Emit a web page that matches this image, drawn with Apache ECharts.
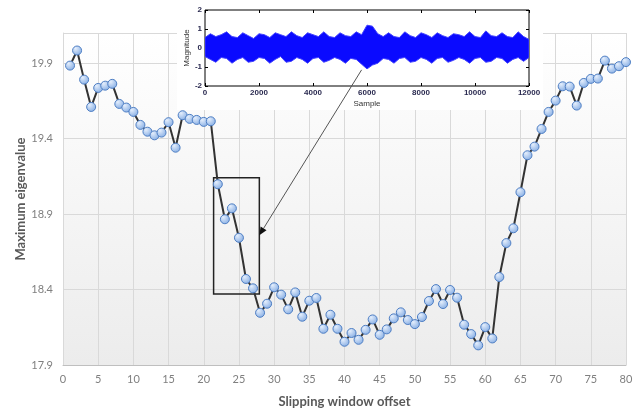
<!DOCTYPE html>
<html>
<head>
<meta charset="utf-8">
<script src="https://cdn.jsdelivr.net/npm/echarts@6/dist/echarts.min.js"></script>
<style>
  html, body { margin: 0; padding: 0; background: #ffffff; }
  #chart { width: 639px; height: 411px; }
</style>
</head>
<body>
<div id="chart"></div>
<script>
// Maximum eigenvalue for each slipping-window offset (1..80)
const eigenValues = [
  19.884, 19.984, 19.791, 19.610, 19.736, 19.751, 19.763, 19.630, 19.606, 19.577,
  19.491, 19.446, 19.422, 19.440, 19.509, 19.340, 19.555, 19.531, 19.524, 19.511,
  19.515, 19.098, 18.866, 18.938, 18.743, 18.470, 18.408, 18.246, 18.306, 18.415,
  18.366, 18.269, 18.381, 18.220, 18.326, 18.344, 18.140, 18.233, 18.140, 18.054,
  18.112, 18.067, 18.133, 18.202, 18.100, 18.136, 18.209, 18.249, 18.198, 18.171,
  18.218, 18.324, 18.403, 18.304, 18.397, 18.346, 18.167, 18.105, 18.030, 18.151,
  18.076, 18.483, 18.708, 18.806, 19.045, 19.290, 19.347, 19.464, 19.577, 19.652,
  19.747, 19.745, 19.619, 19.769, 19.796, 19.798, 19.917, 19.864, 19.880, 19.907
];

// Axis ticks of the main chart
const yTicks = { min: 17.9, max: 20.1, step: 0.5 };
const xTicks = { min: 0, max: 80, step: 5 };

// Highlighted window region (offset range and eigenvalue range)
const boxOffsets = [21.4, 27.9];
const boxValues = [18.37, 19.14];

// Inset signal: upper and lower envelope of the waveform, one pair every 200 samples
const sampleStep = 200;
const signalUpper = [
  0.55, 0.75, 0.60, 0.70, 0.85, 0.60, 0.55, 0.80, 0.65, 0.50,
  0.75, 0.70, 0.55, 0.80, 0.70, 0.60, 0.85, 0.65, 0.55, 0.80,
  0.70, 0.60, 0.85, 0.60, 0.55, 0.80, 0.65, 0.60, 0.85, 0.70,
  1.20, 1.15, 0.75, 0.60, 0.80, 0.60, 0.55, 0.85, 0.65, 0.55,
  0.80, 0.70, 0.55, 0.80, 0.65, 0.55, 0.75, 0.70, 0.60, 0.85,
  0.60, 0.55, 0.90, 0.65, 0.60, 0.80, 0.60, 0.55, 0.85, 0.60,
  0.45
];
const signalLower = [
  -0.45, -0.60, -0.75, -0.50, -0.55, -0.80, -0.60, -0.50, -0.75, -0.70,
  -0.50, -0.55, -0.80, -0.60, -0.45, -0.75, -0.70, -0.50, -0.60, -0.80,
  -0.55, -0.50, -0.75, -0.65, -0.50, -0.60, -0.80, -0.55, -0.60, -0.85,
  -1.10, -0.90, -0.80, -0.55, -0.60, -0.80, -0.55, -0.50, -0.75, -0.70,
  -0.50, -0.60, -0.80, -0.55, -0.50, -0.75, -0.65, -0.50, -0.60, -0.80,
  -0.55, -0.50, -0.75, -0.70, -0.50, -0.55, -0.80, -0.60, -0.50, -0.70,
  -0.50
];

// Arrow from the transient in the waveform to the highlighted window
const arrowFrom = [5800, -1.15];   // sample, magnitude
const arrowTo = [27.9, 18.76];     // offset, eigenvalue

const chart = echarts.init(document.getElementById('chart'), null, { renderer: 'canvas' });

const mainPoints = eigenValues.map((v, i) => [i + 1, v]);
const samples = signalUpper.map((_, i) => i * sampleStep);

const labelFont = 'Lato, "Open Sans", sans-serif';
const insetFont = '"Liberation Sans", Arial, sans-serif';

const insetTick = { show: true, inside: true, length: 3, lineStyle: { color: '#000' } };

// Waveform band: polygon along the upper envelope and back along the lower one
function renderSignalBand(params, api) {
  const top = samples.map((s, i) => api.coord([s, signalUpper[i]]));
  const bottom = samples.map((s, i) => api.coord([s, signalLower[i]])).reverse();
  return {
    type: 'polygon',
    shape: { points: top.concat(bottom) },
    style: { fill: '#0a0aff', stroke: '#4040ff', lineWidth: 1 }
  };
}

const option = {
  backgroundColor: '#ffffff',
  animation: false,
  grid: [
    {
      left: 63, right: 13, top: 33, bottom: 46,
      outerBoundsMode: 'none',
      containLabel: false,
      show: true,
      borderWidth: 0,
      backgroundColor: new echarts.graphic.LinearGradient(0, 0, 0, 1, [
        { offset: 0, color: '#ffffff' },
        { offset: 1, color: '#ececec' }
      ])
    },
    {
      left: 205, top: 10, width: 324, height: 76,
      outerBoundsMode: 'none',
      containLabel: false,
      show: true,
      borderColor: '#000000',
      borderWidth: 1,
      backgroundColor: '#ffffff',
      z: 20
    }
  ],
  xAxis: [
    {
      gridIndex: 0, type: 'value',
      min: xTicks.min, max: xTicks.max, interval: xTicks.step,
      name: 'Slipping window offset',
      nameLocation: 'middle', nameGap: 30, nameMoveOverlap: false,
      nameTextStyle: { fontFamily: labelFont, fontSize: 13, fontWeight: 'bold', color: '#595959' },
      axisLine: { show: true, lineStyle: { color: '#bfbfbf', width: 1 } },
      axisTick: { show: false },
      axisLabel: { fontFamily: labelFont, fontSize: 11, color: '#7f7f7f', margin: 9 },
      splitLine: { show: true, lineStyle: { color: '#d9d9d9', width: 1 } }
    },
    {
      gridIndex: 1, type: 'value',
      min: 0, max: 12000, interval: 2000, z: 21,
      name: 'Sample', nameLocation: 'middle', nameGap: 14, nameMoveOverlap: false,
      nameTextStyle: { fontFamily: insetFont, fontSize: 8, color: '#333333' },
      axisLine: { show: false, onZero: false },
      axisTick: insetTick,
      axisLabel: { fontFamily: insetFont, fontSize: 8, fontWeight: 'bold', color: '#2a2a50', margin: 3, formatter: v => String(v) },
      splitLine: { show: false }
    },
    {
      gridIndex: 1, type: 'value', position: 'top',
      min: 0, max: 12000, interval: 2000, z: 21,
      axisLine: { show: false, onZero: false },
      axisTick: insetTick,
      axisLabel: { show: false },
      splitLine: { show: false }
    }
  ],
  yAxis: [
    {
      gridIndex: 0, type: 'value',
      min: yTicks.min, max: yTicks.max, interval: yTicks.step,
      name: 'Maximum eigenvalue',
      nameLocation: 'middle', nameGap: 36, nameRotate: 90, nameMoveOverlap: false,
      nameTextStyle: { fontFamily: labelFont, fontSize: 13, fontWeight: 'bold', color: '#595959' },
      axisLine: { show: true, lineStyle: { color: '#d9d9d9', width: 1 } },
      axisTick: { show: false },
      axisLabel: {
        fontFamily: labelFont, fontSize: 11, color: '#7f7f7f', margin: 10,
        showMaxLabel: false,
        formatter: v => v.toFixed(1)
      },
      splitLine: { show: true, lineStyle: { color: '#d9d9d9', width: 1 } }
    },
    {
      gridIndex: 1, type: 'value',
      min: -2, max: 2, interval: 1, z: 21,
      name: 'Magnitude', nameLocation: 'middle', nameGap: 14, nameRotate: 90, nameMoveOverlap: false,
      nameTextStyle: { fontFamily: insetFont, fontSize: 8, color: '#333333' },
      axisLine: { show: false, onZero: false },
      axisTick: insetTick,
      axisLabel: { fontFamily: insetFont, fontSize: 8, fontWeight: 'bold', color: '#2a2a50', margin: 3 },
      splitLine: { show: false }
    },
    {
      gridIndex: 1, type: 'value', position: 'right',
      min: -2, max: 2, interval: 1, z: 21,
      axisLine: { show: false, onZero: false },
      axisTick: insetTick,
      axisLabel: { show: false },
      splitLine: { show: false }
    }
  ],
  series: [
    {
      type: 'line',
      xAxisIndex: 0, yAxisIndex: 0,
      data: mainPoints,
      z: 3,
      symbol: 'circle',
      symbolSize: 9,
      lineStyle: { color: '#333333', width: 2 },
      itemStyle: {
        color: new echarts.graphic.RadialGradient(0.35, 0.3, 0.8, [
          { offset: 0, color: '#e4eefc' },
          { offset: 1, color: '#7ea8e2' }
        ]),
        borderColor: '#4f7fc4',
        borderWidth: 1
      },
      markArea: {
        silent: true,
        itemStyle: { color: 'rgba(0,0,0,0)', borderColor: '#222222', borderWidth: 1.5 },
        data: [[
          { coord: [boxOffsets[0], boxValues[1]] },
          { coord: [boxOffsets[1], boxValues[0]] }
        ]]
      }
    },
    {
      type: 'custom',
      xAxisIndex: 1, yAxisIndex: 1,
      z: 22,
      silent: true,
      clip: true,
      data: [[samples[0], signalUpper[0]]],
      renderItem: renderSignalBand
    }
  ]
};

chart.setOption(option);

// White panel behind the inset and the connecting arrow
function drawOverlay() {
  const p0 = chart.convertToPixel({ xAxisIndex: 1, yAxisIndex: 1 }, arrowFrom);
  const p1 = chart.convertToPixel({ xAxisIndex: 0, yAxisIndex: 0 }, arrowTo);
  const dx = p1[0] - p0[0], dy = p1[1] - p0[1];
  const len = Math.sqrt(dx * dx + dy * dy);
  const ux = dx / len, uy = dy / len;
  const headLen = 8, headHalf = 3.5;
  const bx = p1[0] - ux * headLen, by = p1[1] - uy * headLen;
  const gTopLeft = chart.convertToPixel({ xAxisIndex: 1, yAxisIndex: 1 }, [0, 2]);
  const gBottomRight = chart.convertToPixel({ xAxisIndex: 1, yAxisIndex: 1 }, [12000, -2]);
  chart.setOption({
    graphic: [
      {
        type: 'rect', z: 10, silent: true,
        shape: {
          x: gTopLeft[0] - 28, y: 0,
          width: gBottomRight[0] - gTopLeft[0] + 42,
          height: gBottomRight[1] + 24
        },
        style: { fill: '#ffffff' }
      },
      {
        type: 'line', z: 30, silent: true,
        shape: { x1: p0[0], y1: p0[1], x2: bx, y2: by },
        style: { stroke: '#555555', lineWidth: 1 }
      },
      {
        type: 'polygon', z: 30, silent: true,
        shape: {
          points: [
            [p1[0], p1[1]],
            [bx - uy * headHalf, by + ux * headHalf],
            [bx + uy * headHalf, by - ux * headHalf]
          ]
        },
        style: { fill: '#111111' }
      }
    ]
  });
}
drawOverlay();
</script>
</body>
</html>
